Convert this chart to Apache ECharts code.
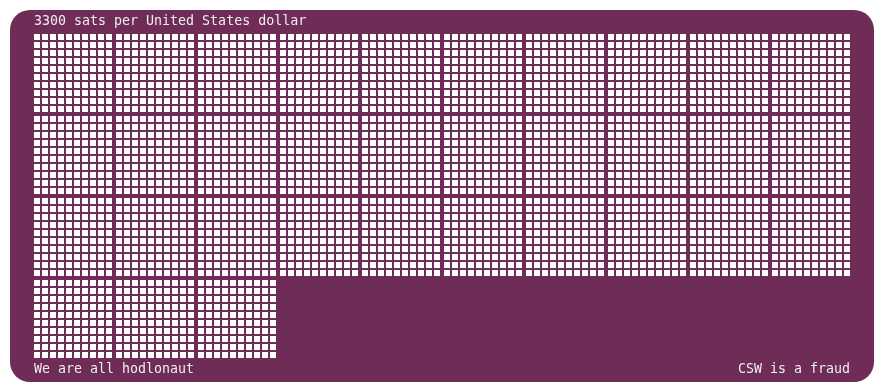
<!DOCTYPE html>
<html>
<head>
<meta charset="utf-8">
<script src="https://cdn.jsdelivr.net/npm/echarts@6/dist/echarts.min.js"></script>
<style>html,body{margin:0;padding:0;background:#fff}#c{width:884px;height:392px}</style>
</head>
<body>
<div id="c"></div>
<script>
// ---- data ----
var satsPerDollar = [3300];
var titleText = ['3300 sats per United States dollar'];
var footerLeft = ['We are all hodlonaut'];
var footerRight = ['CSW is a fraud'];
var cellsPerBlock = [100];
var cellsPerBlockRow = [10];
var blocksPerRow = [10];

// ---- layout ----
var CELL = 6, CELL_PITCH = 8, BLOCK_PITCH = 82;
var BG = '#6e2c57', FG = '#ffffff', TXT = '#eeeeee';
var FONT = '"DejaVu Sans Mono", monospace';

// build cell list from the value
var cells = [];
for (var i = 0; i < satsPerDollar[0]; i++) {
  var b = Math.floor(i / cellsPerBlock[0]);
  var k = i % cellsPerBlock[0];
  var r = Math.floor(k / cellsPerBlockRow[0]);
  var c = k % cellsPerBlockRow[0];
  var br = Math.floor(b / blocksPerRow[0]);
  var bc = b % blocksPerRow[0];
  cells.push([bc * BLOCK_PITCH + c * CELL_PITCH, br * BLOCK_PITCH + r * CELL_PITCH]);
}

var chart = echarts.init(document.getElementById('c'), null, {renderer: 'canvas'});
chart.setOption({
  animation: false,
  backgroundColor: '#ffffff',
  graphic: [
    {type: 'rect', z: -10, shape: {x: 10, y: 10, width: 864, height: 372, r: 20}, style: {fill: BG}},
    {type: 'text', z: 10, style: {x: 34, y: 21.5, text: titleText[0], fill: TXT, font: '13.3px ' + FONT, verticalAlign: 'middle', align: 'left'}},
    {type: 'text', z: 10, style: {x: 34, y: 370, text: footerLeft[0], fill: TXT, font: '13.3px ' + FONT, verticalAlign: 'middle', align: 'left'}},
    {type: 'text', z: 10, style: {x: 850, y: 370, text: footerRight[0], fill: TXT, font: '13.3px ' + FONT, verticalAlign: 'middle', align: 'right'}}
  ],
  grid: {left: 34, top: 34, width: 820, height: 328},
  xAxis: {type: 'value', min: 0, max: 820, show: false},
  yAxis: {type: 'value', min: 0, max: 328, inverse: true, show: false},
  series: [{
    type: 'custom',
    data: cells,
    renderItem: function (params, api) {
      var p = api.coord([api.value(0), api.value(1)]);
      var q = api.coord([api.value(0) + CELL, api.value(1) + CELL]);
      return {type: 'rect', shape: {x: p[0], y: p[1], width: q[0] - p[0], height: q[1] - p[1]}, style: {fill: FG}};
    }
  }]
});
</script>
</body>
</html>
